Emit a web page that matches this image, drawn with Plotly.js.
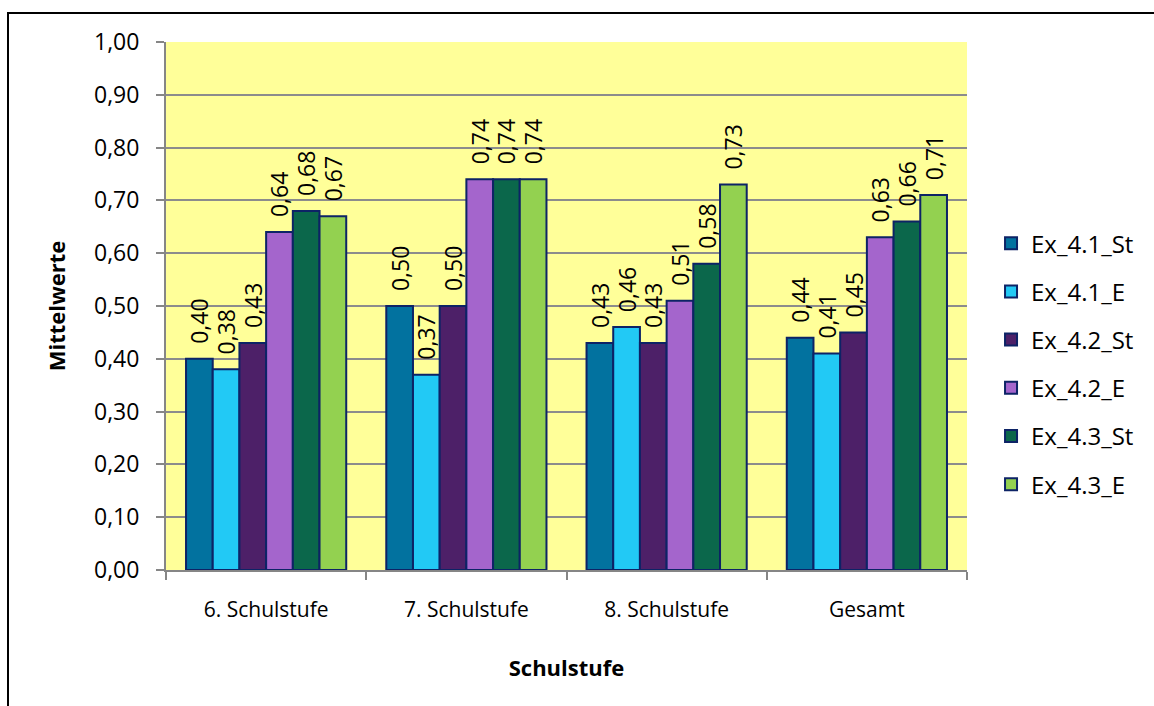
<!DOCTYPE html>
<html>
<head>
<meta charset="utf-8">
<script src="https://cdn.plot.ly/plotly-3.0.1.min.js"></script>
<style>
  html, body { margin: 0; padding: 0; background: #ffffff; }
  #frame {
    position: absolute; left: 7px; top: 12px; width: 1160px; height: 710px;
    border-left: 2px solid #000; border-top: 2px solid #000; pointer-events: none; z-index: 2;
  }
  #chart { position: absolute; left: 0; top: 0; width: 1154px; height: 706px; }
</style>
</head>
<body>
<div id="chart"></div>
<div id="frame"></div>
<script>
// Grade levels on the x axis
const categories = ['6. Schulstufe', '7. Schulstufe', '8. Schulstufe', 'Gesamt'];

// Mean values per series
const ex41St = [0.40, 0.50, 0.43, 0.44];
const ex41E  = [0.38, 0.37, 0.46, 0.41];
const ex42St = [0.43, 0.50, 0.43, 0.45];
const ex42E  = [0.64, 0.74, 0.51, 0.63];
const ex43St = [0.68, 0.74, 0.58, 0.66];
const ex43E  = [0.67, 0.74, 0.73, 0.71];

const seriesNames = ['Ex_4.1_St', 'Ex_4.1_E', 'Ex_4.2_St', 'Ex_4.2_E', 'Ex_4.3_St', 'Ex_4.3_E'];
const seriesValues = [ex41St, ex41E, ex42St, ex42E, ex43St, ex43E];
const seriesColors = ['#02729f', '#22c9f5', '#4d2068', '#a465cc', '#0b674b', '#93d150'];

const FONT = '"Open Sans", Lato, sans-serif';
const PAD = '\u00a0\u00a0';

const traces = seriesNames.map((name, i) => ({
  type: 'bar',
  name: name,
  x: categories,
  y: seriesValues[i],
  legendgroup: 'g' + i,
  marker: { color: seriesColors[i], line: { color: '#0d2366', width: 2 } },
  texttemplate: PAD + '%{y:.2f}',
  textposition: 'outside',
  textangle: -90,
  constraintext: 'none',
  cliponaxis: false,
  textfont: { family: FONT, size: 23, color: '#000' },
  hoverinfo: 'skip'
}));

const layout = {
  width: 1154,
  height: 706,
  separators: ',.',
  margin: { l: 166, r: 187, t: 42, b: 136 },
  paper_bgcolor: '#ffffff',
  plot_bgcolor: '#ffff99',
  font: { family: FONT, size: 22, color: '#000' },
  barmode: 'group',
  bargap: 0.2,
  bargroupgap: 0,
  showlegend: true,
  legend: {
    x: 1.03, xanchor: 'left', y: 0.39, yanchor: 'middle',
    font: { family: FONT, size: 24, color: '#000' },
    tracegroupgap: 14,
    bgcolor: 'rgba(0,0,0,0)'
  },
  xaxis: {
    type: 'category',
    showline: true, linecolor: '#868686', linewidth: 2,
    ticks: 'outside', tickson: 'boundaries', ticklen: 8, tickcolor: '#868686', tickwidth: 2,
    ticklabelstandoff: 20,
    tickfont: { family: FONT, size: 21 },
    title: { text: '<b>Schulstufe</b>', font: { family: FONT, size: 22 }, standoff: 38 },
    fixedrange: true
  },
  yaxis: {
    range: [0, 1],
    dtick: 0.1,
    tickformat: '.2f',
    showline: true, linecolor: '#868686', linewidth: 2,
    showgrid: true, gridcolor: '#8c8c8c', gridwidth: 2,
    zeroline: false,
    ticks: 'outside', ticklen: 8, tickcolor: '#868686', tickwidth: 2,
    ticklabelstandoff: 12,
    tickfont: { family: FONT, size: 23 },
    title: { text: '<b>Mittelwerte</b>', font: { family: FONT, size: 22 }, standoff: 22 },
    fixedrange: true
  }
};

Plotly.newPlot('chart', traces, layout, { displayModeBar: false, staticPlot: true });
</script>
</body>
</html>
